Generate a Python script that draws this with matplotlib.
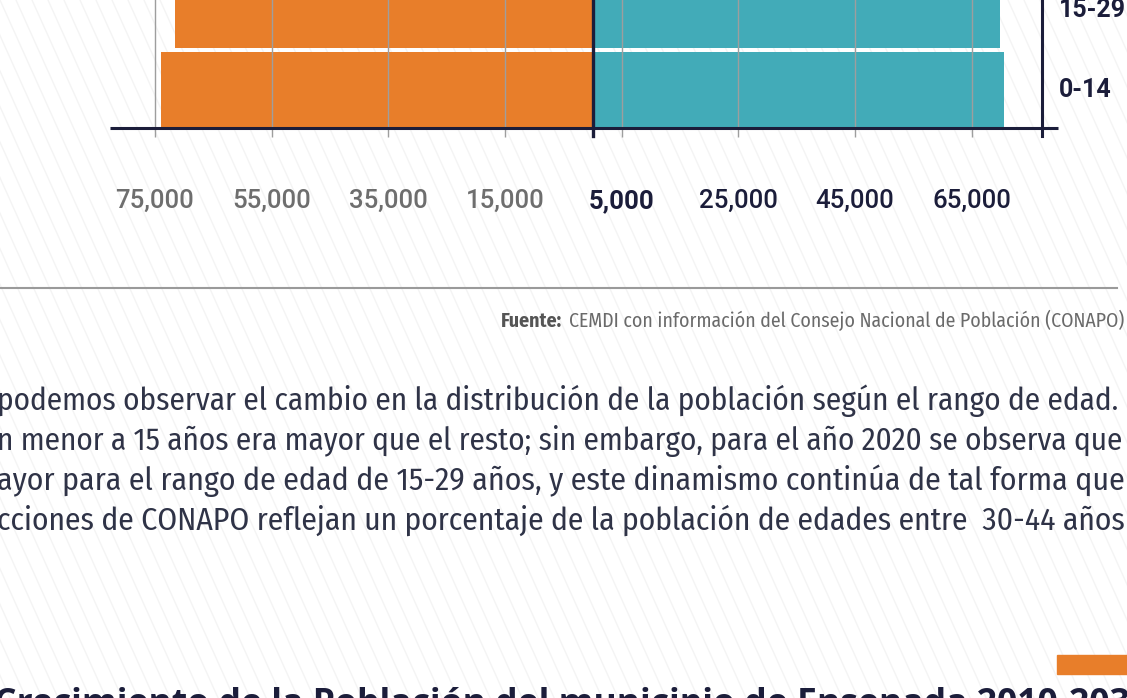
import matplotlib
matplotlib.use("Agg")
import matplotlib.pyplot as plt
from matplotlib import transforms
from matplotlib.lines import Line2D
from matplotlib.patches import Rectangle

W, H = 1127, 698

grupos = ["0-14", "15-29"]
naranja = [73900, 71600]
azul = [70500, 69800]
ticks = [-75000, -55000, -35000, -15000, 5000, 25000, 45000, 65000]
tick_labels = ["75,000", "55,000", "35,000", "15,000", "5,000", "25,000", "45,000", "65,000"]

parrafo = [
    "podemos observar el cambio en la distribución de la población según el rango de edad.",
    "n menor a 15 años era mayor que el resto; sin embargo, para el año 2020 se observa que",
    "ayor para el rango de edad de 15-29 años, y este dinamismo continúa de tal forma que",
    "cciones de CONAPO reflejan un porcentaje de la población de edades entre  30-44 años",
]
fuente = "CEMDI con información del Consejo Nacional de Población (CONAPO)"
titulo = "Crecimiento de la Población del municipio de Ensenada 2010-2030"

NAVY = "#1b1d3a"
ORANGE = "#e87e2a"
TEAL = "#42abb8"
COND = ["Fira Sans Condensed", "Sofia Sans Semi Condensed", "DejaVu Sans"]

fig = plt.figure(figsize=(W / 100, H / 100), dpi=100)
renderer = fig.canvas.get_renderer()


def fx(px):
    return px / W


def fy(py):
    return 1 - py / H


def fit_width(t, target):
    w = t.get_window_extent(renderer).width
    t.set_fontsize(t.get_fontsize() * target / w)


# faint diagonal stripes in the page background
bg = fig.add_axes([0, 0, 1, 1], zorder=-10)
bg.set_xlim(0, W)
bg.set_ylim(H, 0)
bg.axis("off")
for x0 in range(-400, W + 20, 16):
    bg.plot([x0, x0 + 0.45 * H], [0, H], color="#f4f4f4", lw=1)

# pyramid
ax = fig.add_axes([fx(110), fy(128), (1042 - 110) / W, 166.4 / H])
ax.set_facecolor("none")
ypos = list(range(len(grupos)))
ax.barh(ypos, [-v for v in naranja], height=0.95, color=ORANGE, zorder=1)
ax.barh(ypos, azul, height=0.95, color=TEAL, zorder=1)
ax.set_xlim(-82705, 77048)
ax.set_ylim(-0.48, 1.6)
ax.set_xticks(ticks)
ax.set_xticklabels([])
ax.set_yticks([])
ax.set_axisbelow(False)
ax.grid(axis="x", color="#9e9e9e", lw=1)
ax.tick_params(axis="x", length=6.5, color="#9e9e9e", width=1)
for s in ["top", "left", "right", "bottom"]:
    ax.spines[s].set_visible(False)

below = -8 / 166.4
ax.plot([0, 1.017], [0, 0], transform=ax.transAxes, color=NAVY, lw=2.2,
        clip_on=False, zorder=4, solid_capstyle="butt")
ax.plot([1, 1], [below, 1], transform=ax.transAxes, color=NAVY, lw=2.2,
        clip_on=False, zorder=4)
ax.plot([0, 0], [below, 1], transform=ax.get_xaxis_transform(), color=NAVY,
        lw=2.4, clip_on=False, zorder=4)

lab_tr = transforms.offset_copy(ax.get_xaxis_transform(), fig=fig, y=-80, units="dots")
for t, lab in zip(ticks, tick_labels):
    if t == 5000:
        color, weight = NAVY, "bold"
    elif t > 0:
        color, weight = NAVY, "medium"
    else:
        color, weight = "#6e6e6e", "medium"
    ax.text(t, 0, lab, transform=lab_tr, ha="center", va="baseline",
            fontsize=18.5, family="Roboto", color=color, fontweight=weight,
            clip_on=False)

grp_tr = transforms.offset_copy(
    transforms.blended_transform_factory(ax.transAxes, ax.transData),
    fig=fig, x=17, units="dots")
for y, g in zip(ypos, grupos):
    ax.text(1, y, g, transform=grp_tr, ha="left", va="center", fontsize=18,
            family="Roboto", fontweight="bold", color=NAVY, clip_on=False)

# separator and source
fig.add_artist(Line2D([fx(0), fx(1117)], [fy(288), fy(288)], color="#9a9a9a", lw=1.5))
src = fig.text(fx(1124), fy(327), fuente, ha="right", va="baseline", fontsize=11,
               family=COND, fontweight="normal", color="#6a6a6a")
fit_width(src, 553)
x_left = src.get_window_extent(renderer).x0
fig.text((x_left - 7) / W, fy(327), "Fuente:", ha="right", va="baseline",
         fontsize=src.get_fontsize(), family=COND, fontweight="bold", color="#555555")

# body paragraph (justified in the page, so each line spans nearly the full width)
line_widths = [1123, 1129, 1127, 1133]
for i, s in enumerate(parrafo):
    t = fig.text(fx(-3), fy(410 + 40 * i), s, ha="left", va="baseline",
                 fontsize=16, family=COND, fontweight="normal", color="#2f3347")
    fit_width(t, line_widths[i])

# next section heading, cut off at the bottom
fig.add_artist(Rectangle((fx(1057), fy(674)), fx(80), 19 / H, color=ORANGE,
                         transform=fig.transFigure))
tt = fig.text(fx(-6), fy(713), titulo, ha="left", va="baseline", fontsize=28,
              family="Open Sans", fontweight="bold", color=NAVY)
fit_width(tt, 1156)
cap = 0.714 * tt.get_fontsize() * 100 / 72
tt.set_position((fx(-6), fy(689 + cap)))

fig.savefig("out.png", dpi=100)
